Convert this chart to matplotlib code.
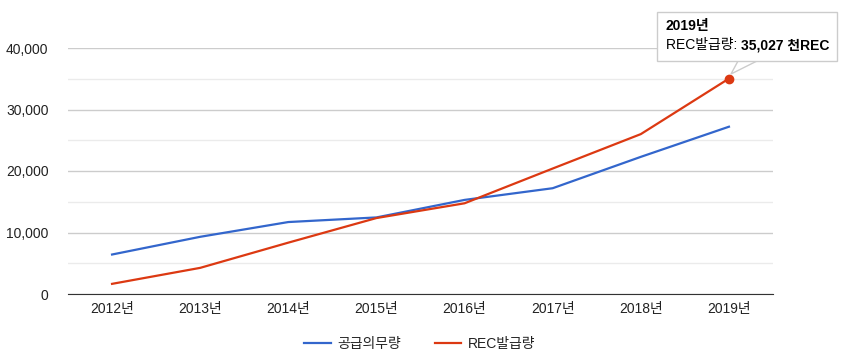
import matplotlib.pyplot as plt
from matplotlib.patches import Polygon, Rectangle
from matplotlib.ticker import FuncFormatter, MultipleLocator

plt.rcParams['font.family'] = ['Liberation Sans', 'Noto Sans CJK KR', 'DejaVu Sans']

# 데이터 (천REC)
years = ['2012년', '2013년', '2014년', '2015년', '2016년', '2017년', '2018년', '2019년']
obligation = [6420, 9300, 11700, 12450, 15300, 17200, 22300, 27200]   # 공급의무량
rec_issued = [1650, 4250, 8350, 12350, 14750, 20400, 26000, 35027]    # REC발급량

blue = '#3366cc'
red = '#dc3912'

fig = plt.figure(figsize=(8.43, 3.6), dpi=100)
W, H = 843, 360
ax = fig.add_axes([68 / W, 1 - 294 / H, 705 / W, 246 / H])

x = range(len(years))
ax.plot(x, obligation, color=blue, lw=1.6, label='공급의무량', zorder=3)
ax.plot(x, rec_issued, color=red, lw=1.6, label='REC발급량', zorder=3)
ax.plot([7], [rec_issued[-1]], 'o', color=red, ms=6, zorder=4, clip_on=False)

ax.set_xlim(-0.5, len(years) - 0.5)
ax.set_ylim(0, 40000)
ax.set_xticks(list(x))
ax.set_xticklabels(years)
ax.yaxis.set_major_locator(MultipleLocator(10000))
ax.yaxis.set_minor_locator(MultipleLocator(5000))
ax.yaxis.set_major_formatter(FuncFormatter(lambda v, p: f'{v:,.0f}'))

ax.grid(True, which='major', axis='y', color='#cccccc', lw=1)
ax.grid(True, which='minor', axis='y', color='#ebebeb', lw=1)
ax.set_axisbelow(True)
for s in ['top', 'right', 'left']:
    ax.spines[s].set_visible(False)
ax.spines['bottom'].set_color('#333333')
ax.tick_params(axis='both', which='both', length=0, labelsize=10, colors='#222222', pad=6)
ax.tick_params(axis='y', pad=14)

leg = fig.legend(loc='center', bbox_to_anchor=(420 / W, 1 - 344 / H), ncol=2,
                 frameon=False, fontsize=10, handlelength=1.9, handletextpad=0.5,
                 columnspacing=2.4)
for t in leg.get_texts():
    t.set_color('#222222')

# 툴팁 (마커보다 아래에 그림)
fx = lambda px: px / W
fy = lambda py: 1 - py / H
fig.patches.append(Polygon([(fx(738), fy(61)), (fx(731), fy(74)), (fx(757), fy(61))],
                           closed=True, transform=fig.transFigure,
                           facecolor='white', edgecolor='#cccccc', lw=1, zorder=9))
fig.patches.append(Rectangle((fx(657), fy(61)), fx(180), 49 / H, transform=fig.transFigure,
                             facecolor='white', edgecolor='#cccccc', lw=1, zorder=10))
fig.text(fx(666), fy(26), '2019년', fontsize=10, fontweight='bold', va='center', zorder=11)
t1 = fig.text(fx(666), fy(45), 'REC발급량: ', fontsize=10, va='center', zorder=11)
fig.canvas.draw()
bb = t1.get_window_extent()
fig.text(bb.x1 / W, fy(45), '35,027 천REC', fontsize=10, fontweight='bold', va='center', zorder=11)

fig.savefig('out.png', dpi=100)
